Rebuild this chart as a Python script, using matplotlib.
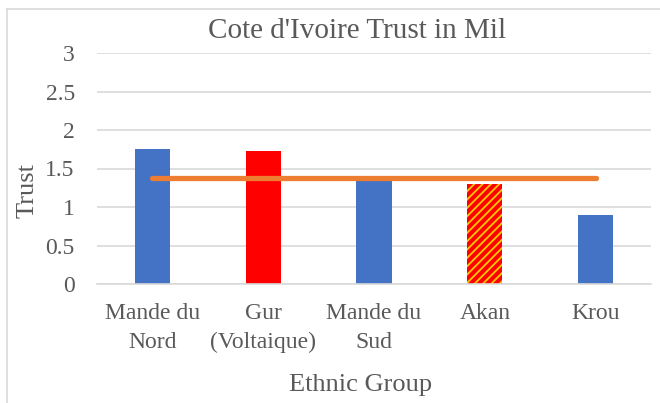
import matplotlib
matplotlib.use("Agg")
import matplotlib.pyplot as plt
from matplotlib.lines import Line2D

categories = ["Mande du\nNord", "Gur\n(Voltaique)", "Mande du\nSud", "Akan", "Krou"]
trust = [1.75, 1.73, 1.36, 1.30, 0.90]
average = [1.38, 1.38, 1.38, 1.38, 1.38]
yticks = [0, 0.5, 1, 1.5, 2, 2.5, 3]
ytick_labels = ["0", "0.5", "1", "1.5", "2", "2.5", "3"]

bar_colors = ["#4472C4", "#FF0000", "#4472C4", "#FF0000", "#4472C4"]
hatches = [None, None, None, "////", None]

plt.rcParams['font.family'] = ['Liberation Serif', 'DejaVu Serif']
plt.rcParams['hatch.linewidth'] = 1.3

W, H = 660, 403
fig = plt.figure(figsize=(W / 100, H / 100), dpi=100)
ax = fig.add_axes([97 / W, 1 - 284 / H, (651 - 97) / W, (284 - 53) / H])

gray = "#595959"
x = list(range(len(categories)))
for xi, v, c, h in zip(x, trust, bar_colors, hatches):
    if h:
        ax.bar(xi, v, width=0.316, color=c, edgecolor="#FFC800", hatch=h, linewidth=0, zorder=2)
    else:
        ax.bar(xi, v, width=0.316, color=c, linewidth=0, zorder=2)

ax.plot(x, average, color="#ED7D31", linewidth=3.8, solid_capstyle="round", zorder=3)

ax.set_xlim(-0.5, len(categories) - 0.5)
ax.set_ylim(0, 3)
ax.set_yticks(yticks)
ax.set_yticklabels(ytick_labels)
ax.set_xticks(x)
ax.set_xticklabels(categories, linespacing=1.45)
ax.tick_params(axis="y", length=0, pad=16, labelsize=17, labelcolor=gray)
ax.tick_params(axis="x", length=0, pad=14, labelsize=17, labelcolor=gray)
ax.grid(axis="y", color="#D9D9D9", linewidth=1.2, zorder=0)
ax.set_axisbelow(True)
for s in ["top", "right", "left"]:
    ax.spines[s].set_visible(False)
ax.spines["bottom"].set_color("#D9D9D9")
ax.spines["bottom"].set_linewidth(1.2)

fig.text(357 / W, 1 - 31 / H, "Cote d'Ivoire Trust in Mil", ha="center", va="center",
         fontsize=21, color=gray)
fig.text(27.5 / W, 1 - 190 / H, "Trust", ha="center", va="center", rotation=90,
         fontsize=19, color=gray)
fig.text(361 / W, 1 - 385 / H, "Ethnic Group", ha="center", va="center",
         fontsize=19, color=gray)

# chart-area border (cropped at right/bottom)
fig.add_artist(Line2D([7 / W, 1], [1 - 8.5 / H, 1 - 8.5 / H], transform=fig.transFigure,
                      color="#D9D9D9", linewidth=1.2))
fig.add_artist(Line2D([7 / W, 7 / W], [0, 1 - 8.5 / H], transform=fig.transFigure,
                      color="#D9D9D9", linewidth=1.2))

fig.savefig("out.png", dpi=100)
